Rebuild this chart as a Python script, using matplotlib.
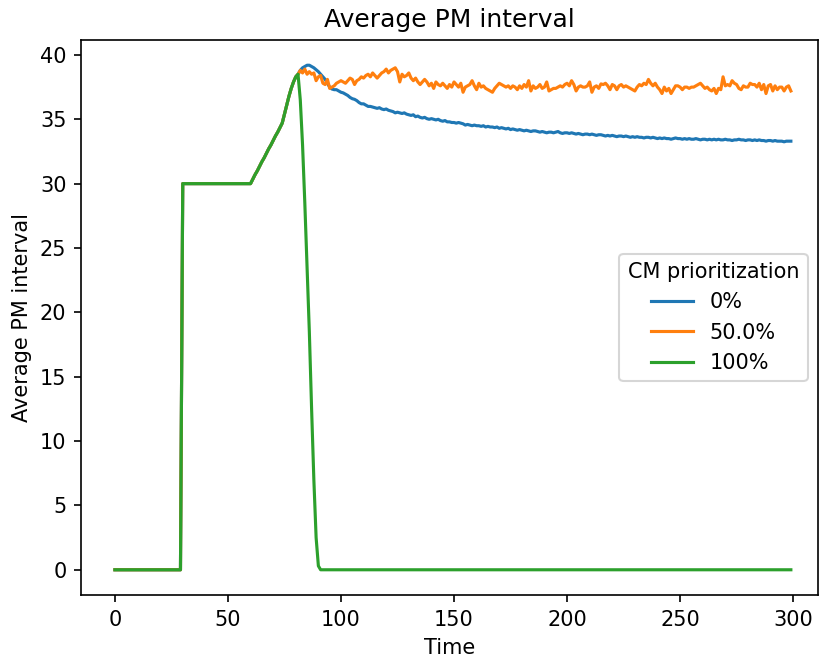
import numpy as np
import matplotlib as mpl
mpl.use('Agg')
import matplotlib.pyplot as plt

# time steps 0..299
time = np.arange(300)

# common start of all three runs (t = 0..81)
start = ([0.0] * 30 + [30.0] * 31 +
         [30.35, 30.7, 31.0, 31.35, 31.7, 32.0, 32.35, 32.7, 33.0, 33.35,
          33.7, 34.0, 34.35, 34.7, 35.4, 36.1, 36.8, 37.4, 37.9, 38.3, 38.5])

# t = 82..299
tail_0 = [
    38.8, 39.0, 39.1, 39.2, 39.2, 39.1, 39.0, 38.85, 38.7, 38.5,
    38.3, 38.1, 37.8, 37.5, 37.35, 37.3, 37.3, 37.2, 37.1, 37.05,
    36.95, 36.85, 36.7, 36.6, 36.55, 36.45, 36.3, 36.2, 36.2, 36.1,
    36.0, 36.0, 35.95, 35.9, 35.85, 35.9, 35.8, 35.75, 35.8, 35.7,
    35.65, 35.6, 35.5, 35.55, 35.5, 35.45, 35.5, 35.4, 35.35, 35.3,
    35.35, 35.2, 35.25, 35.15, 35.1, 35.15, 35.05, 35.0, 35.05, 35.0,
    34.95, 35.0, 34.9, 34.85, 34.9, 34.8, 34.8, 34.75, 34.75, 34.7,
    34.75, 34.7, 34.65, 34.55, 34.6, 34.55, 34.5, 34.55, 34.5, 34.5,
    34.45, 34.5, 34.4, 34.45, 34.4, 34.4, 34.35, 34.4, 34.3, 34.35,
    34.3, 34.25, 34.3, 34.2, 34.25, 34.2, 34.15, 34.2, 34.15, 34.1,
    34.15, 34.1, 34.05, 34.1, 34.1, 34.05, 34.0, 34.05, 34.0, 33.95,
    34.0, 34.0, 33.95, 34.0, 34.05, 33.95, 33.9, 33.95, 33.95, 33.9,
    33.95, 33.9, 33.85, 33.9, 33.85, 33.8, 33.85, 33.85, 33.8, 33.85,
    33.8, 33.75, 33.8, 33.8, 33.75, 33.7, 33.75, 33.7, 33.75, 33.7,
    33.65, 33.7, 33.7, 33.65, 33.7, 33.65, 33.6, 33.65, 33.6, 33.65,
    33.6, 33.6, 33.55, 33.6, 33.6, 33.55, 33.6, 33.55, 33.5, 33.55,
    33.5, 33.55, 33.5, 33.5, 33.45, 33.5, 33.55, 33.5, 33.5, 33.45,
    33.5, 33.45, 33.5, 33.45, 33.45, 33.5, 33.45, 33.4, 33.45, 33.45,
    33.4, 33.45, 33.4, 33.45, 33.4, 33.45, 33.4, 33.4, 33.45, 33.4,
    33.4, 33.35, 33.4, 33.4, 33.45, 33.4, 33.4, 33.35, 33.4, 33.4,
    33.35, 33.4, 33.35, 33.4, 33.35, 33.35, 33.3, 33.35, 33.35, 33.3,
    33.35, 33.3, 33.3, 33.3, 33.25, 33.3, 33.3, 33.3]

tail_50 = [
    38.8, 38.6, 38.9, 38.5, 38.7, 38.5, 38.6, 38.0, 38.3, 38.4,
    37.8, 37.7, 38.1, 37.4, 37.5, 37.6, 37.8, 37.9, 38.0, 37.9,
    37.8, 38.0, 38.2, 38.1, 37.7, 38.0, 38.1, 38.3, 38.2, 38.4,
    38.5, 38.3, 38.6, 38.4, 38.2, 38.4, 38.6, 38.7, 38.9, 38.6,
    38.8, 38.9, 39.0, 38.7, 37.9, 38.5, 38.3, 38.4, 38.6, 38.2,
    38.0, 38.2, 37.9, 37.7, 37.9, 38.1, 37.9, 37.6, 37.8, 37.4,
    37.9, 37.7, 37.6, 37.8, 37.6, 37.4, 37.7, 37.5, 37.9, 37.7,
    37.5, 37.8, 37.1, 37.5, 37.6, 37.7, 38.0, 37.6, 37.3, 37.8,
    37.5, 37.6, 37.4, 37.3, 37.2, 37.1, 37.4, 37.6, 37.8, 37.7,
    37.6, 37.5, 37.6, 37.4, 37.6, 37.5, 37.3, 37.6, 37.4, 37.7,
    37.5, 38.0, 37.2, 37.6, 37.4, 37.5, 37.7, 37.4, 37.5, 37.9,
    37.2, 37.3, 37.4, 37.4, 37.5, 37.6, 37.5, 37.7, 37.8, 37.6,
    38.0, 37.7, 37.2, 37.5, 37.6, 37.5, 37.5, 37.6, 37.9, 37.1,
    37.5, 37.6, 37.4, 37.75, 37.7, 37.8, 37.6, 37.3, 37.7, 37.6,
    37.3, 37.6, 37.7, 37.5, 37.6, 37.5, 37.4, 37.3, 37.2, 37.5,
    37.7, 37.6, 37.8, 37.7, 38.1, 37.8, 37.6, 37.8, 37.5, 37.3,
    37.0, 37.5, 37.2, 37.4, 37.0, 37.3, 37.6, 37.6, 37.5, 37.3,
    37.5, 37.5, 37.4, 37.5, 37.5, 37.6, 37.7, 37.8, 37.6, 37.4,
    37.5, 37.3, 37.2, 37.4, 37.0, 37.4, 37.3, 38.3, 37.6, 37.7,
    37.6, 38.0, 37.8, 37.7, 37.4, 37.3, 37.6, 37.5, 37.5, 37.8,
    37.7, 37.7, 37.5, 37.8, 37.3, 37.7, 37.0, 37.6, 37.7, 37.2,
    37.6, 37.3, 37.5, 37.5, 37.2, 37.5, 37.6, 37.2]

tail_100 = [36.5, 33.0, 28.5, 23.5, 18.5, 12.5, 7.0, 2.5, 0.3] + [0.0] * 209

series = {
    '0%': start + tail_0,
    '50.0%': start + tail_50,
    '100%': start + tail_100,
}

fig = plt.figure(figsize=(819 / 150, 657 / 150), dpi=150)
ax = fig.add_axes([81 / 819, 62 / 657, 737 / 819, 555 / 657])

for name, vals in series.items():
    ax.plot(time, vals, label=name)

ax.set_xlim(-15, 311)
ax.set_title('Average PM interval')
ax.set_xlabel('Time')
ax.set_ylabel('Average PM interval')
ax.legend(title='CM prioritization', loc='center right')

plt.savefig('out.png', dpi=150)
